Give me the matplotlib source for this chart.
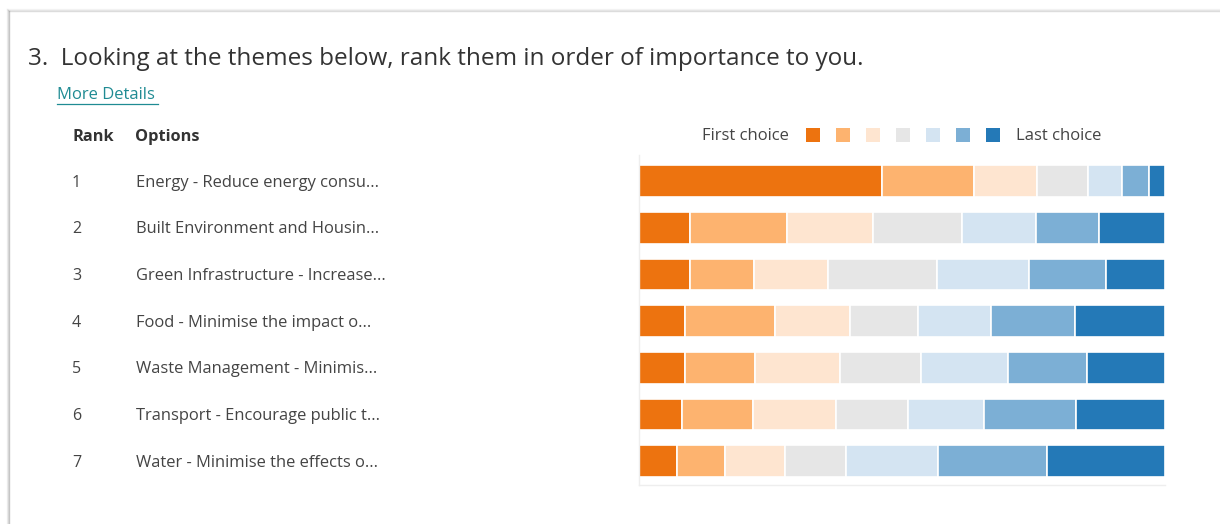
import numpy as np
import matplotlib.pyplot as plt
import matplotlib.transforms as mtransforms
from matplotlib.lines import Line2D
from matplotlib.patches import Rectangle

plt.rcParams["font.family"] = ["Open Sans", "DejaVu Sans"]

# data (percent of respondents per rank position)
ranks = [1, 2, 3, 4, 5, 6, 7]
options = [
    "Energy - Reduce energy consu...",
    "Built Environment and Housin...",
    "Green Infrastructure - Increase...",
    "Food - Minimise the impact o...",
    "Waste Management - Minimis...",
    "Transport - Encourage public t...",
    "Water - Minimise the effects o...",
]
choice_1 = [46.1, 9.7, 9.7, 8.7, 8.7, 8.2, 7.3]
choice_2 = [17.5, 18.4, 12.2, 17.1, 13.4, 13.4, 9.0]
choice_3 = [12.0, 16.4, 14.0, 14.3, 16.2, 15.8, 11.4]
choice_4 = [9.7, 17.0, 20.7, 12.9, 15.4, 13.6, 11.7]
choice_5 = [6.5, 14.0, 17.6, 14.0, 16.5, 14.4, 17.5]
choice_6 = [5.0, 12.1, 14.6, 15.9, 15.0, 17.6, 20.7]
choice_7 = [3.1, 12.5, 11.2, 17.2, 14.9, 16.8, 22.4]

colors = ["#ED730F", "#FDB36F", "#FEE5D0", "#E6E6E6", "#D4E4F2", "#7CAFD5", "#2479B7"]

fig = plt.figure(figsize=(12.2, 5.24), dpi=100)

# card outline with a soft shadow on the left and top
for i, a in enumerate([0.45, 0.25, 0.12]):
    fig.add_artist(Line2D([(9 - i) / 1220] * 2, [0, 1 - (11 - i) / 524],
                          transform=fig.transFigure, color="#888888", alpha=a, lw=1))
    fig.add_artist(Line2D([(9 - i) / 1220, 1], [1 - (11 - i) / 524] * 2,
                          transform=fig.transFigure, color="#999999", alpha=a * 0.7, lw=1))

# header text
fig.text(28 / 1220, 1 - 59 / 524, "3.  Looking at the themes below, rank them in order of importance to you.",
         fontsize=17.5, color="#333333", va="center", ha="left")
fig.text(57 / 1220, 1 - 95 / 524, "More Details", fontsize=12, color="#1F8B93", va="center", ha="left")
fig.add_artist(Line2D([57 / 1220, 158 / 1220], [1 - 104 / 524] * 2, transform=fig.transFigure,
                      color="#1F8B93", lw=0.9))
fig.text(72 / 1220, 1 - 137 / 524, "Rank", fontsize=11.8, fontweight="bold", color="#333333", va="center")
fig.text(135 / 1220, 1 - 137 / 524, "Options", fontsize=11.8, fontweight="bold", color="#333333", va="center")

# legend
fig.text(789 / 1220, 1 - 136 / 524, "First choice", fontsize=12, color="#444444", va="center", ha="right")
fig.text(1016 / 1220, 1 - 136 / 524, "Last choice", fontsize=12, color="#444444", va="center", ha="left")
for i, c in enumerate(colors):
    fig.add_artist(Rectangle(((806 + 30 * i) / 1220, 1 - 142 / 524), 14 / 1220, 14 / 524,
                             transform=fig.transFigure, facecolor=c, edgecolor="none"))

# bar chart
ax = fig.add_axes([639 / 1220, 1 - 485 / 524, 526 / 1220, 330 / 524])
y = np.arange(len(options))
series = [choice_1, choice_2, choice_3, choice_4, choice_5, choice_6, choice_7]
totals = np.sum(series, axis=0)
left = np.zeros(len(options))
for vals, c in zip(series, colors):
    w = np.array(vals) / totals * 100
    ax.barh(y, w, left=left, height=0.68, color=c, edgecolor="white", linewidth=1.2)
    left += w

ax.set_xlim(0, 100)
ax.set_ylim(6.51, -0.56)
ax.set_xticks([])
ax.set_yticks([])
for s in ["top", "right"]:
    ax.spines[s].set_visible(False)
for s in ["left", "bottom"]:
    ax.spines[s].set_color("#EEEEEE")
    ax.spines[s].set_linewidth(1)

# row labels aligned to the bars
trans = mtransforms.blended_transform_factory(fig.transFigure, ax.transData)
for yi, r, opt in zip(y, ranks, options):
    fig.text(72 / 1220, yi + 0.03, str(r), transform=trans, fontsize=11.5, color="#444444", va="center")
    fig.text(136 / 1220, yi + 0.03, opt, transform=trans, fontsize=11.9, color="#444444", va="center")

fig.savefig("out.png", dpi=100, facecolor="white")
